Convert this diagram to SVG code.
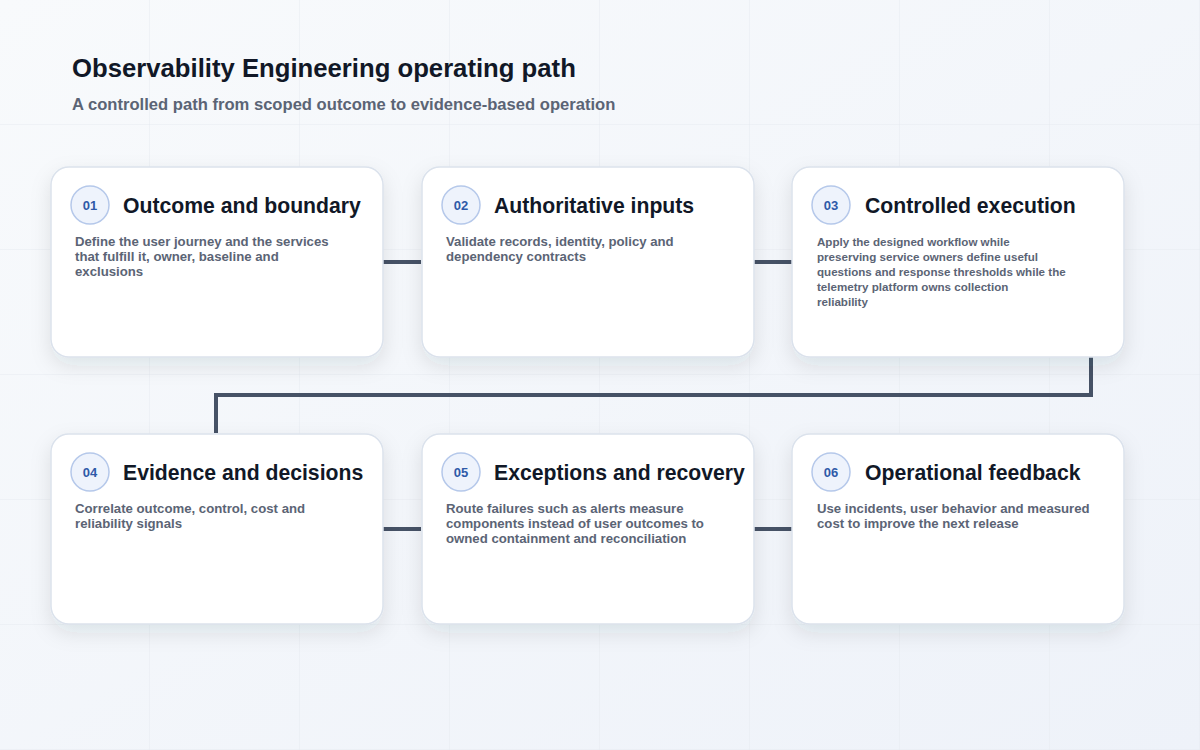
<svg xmlns="http://www.w3.org/2000/svg" width="1200" height="750" viewBox="0 0 1200 750">
<defs>
<linearGradient id="bg" x1="0" y1="0" x2="1" y2="1"><stop offset="0" stop-color="#f8fafc"/><stop offset="1" stop-color="#eef2f9"/></linearGradient>
<pattern id="grid" width="150" height="125" patternUnits="userSpaceOnUse" x="0" y="0"><path d="M150 0V125M0 125H150" fill="none" stroke="#e6eaf1" stroke-width="1"/></pattern>
<filter id="sh" x="-20%" y="-20%" width="140%" height="150%"><feDropShadow dx="0" dy="8" stdDeviation="10" flood-color="#1e293b" flood-opacity="0.1"/></filter>
</defs>
<style>
.card{fill:#fff;stroke:#dbe2ec;stroke-width:1.5;filter:url(#sh)}
.badge{fill:#eef3fc;stroke:#b5c8ea;stroke-width:1.5}
.num{font-family:"Liberation Sans",Arial,sans-serif;font-weight:bold;font-size:13px;fill:#2f5aa8;text-anchor:middle}
.ttl{font-family:"Liberation Sans",Arial,sans-serif;font-weight:bold;font-size:21.2px;fill:#111827}
.body{font-family:"Liberation Sans",Arial,sans-serif;font-weight:bold;font-size:13.2px;fill:#5b6475}
.conn{fill:none;stroke:#465266;stroke-width:4}
</style>
<rect width="1200" height="750" fill="url(#bg)"/>
<rect width="1200" height="750" fill="url(#grid)"/>
<text x="72" y="77" font-family="Liberation Sans,Arial,sans-serif" font-weight="bold" font-size="25.7" fill="#111827">Observability Engineering operating path</text>
<text x="72" y="110" font-family="Liberation Sans,Arial,sans-serif" font-weight="bold" font-size="16.6" fill="#5b6475">A controlled path from scoped outcome to evidence-based operation</text>
<g id="connectors">
<path class="conn" d="M383 262H421"/>
<path class="conn" d="M754 262H792"/>
<path class="conn" d="M1091 357V395H216V433"/>
<path class="conn" d="M383 529H421"/>
<path class="conn" d="M754 529H792"/>
</g>
<g id="n1"><rect class="card" x="51" y="167" width="332" height="190" rx="18"/><circle class="badge" cx="90" cy="205" r="19"/><text class="num" x="90" y="210">01</text><text class="ttl" x="123" y="213">Outcome and boundary</text><text class="body"><tspan x="75" y="246">Define the user journey and the services</tspan><tspan x="75" y="261">that fulfill it, owner, baseline and</tspan><tspan x="75" y="276">exclusions</tspan></text></g>
<g id="n2"><rect class="card" x="422" y="167" width="332" height="190" rx="18"/><circle class="badge" cx="461" cy="205" r="19"/><text class="num" x="461" y="210">02</text><text class="ttl" x="494" y="213">Authoritative inputs</text><text class="body"><tspan x="446" y="246">Validate records, identity, policy and</tspan><tspan x="446" y="261">dependency contracts</tspan></text></g>
<g id="n3"><rect class="card" x="792" y="167" width="332" height="190" rx="18"/><circle class="badge" cx="831" cy="205" r="19"/><text class="num" x="831" y="210">03</text><text class="ttl" x="865" y="213">Controlled execution</text><text class="body" style="font-size:11.6px"><tspan x="817" y="246">Apply the designed workflow while</tspan><tspan x="817" y="261">preserving service owners define useful</tspan><tspan x="817" y="276">questions and response thresholds while the</tspan><tspan x="817" y="291">telemetry platform owns collection</tspan><tspan x="817" y="306">reliability</tspan></text></g>
<g id="n4"><rect class="card" x="51" y="434" width="332" height="190" rx="18"/><circle class="badge" cx="90" cy="472" r="19"/><text class="num" x="90" y="477">04</text><text class="ttl" x="123" y="480">Evidence and decisions</text><text class="body"><tspan x="75" y="513">Correlate outcome, control, cost and</tspan><tspan x="75" y="528">reliability signals</tspan></text></g>
<g id="n5"><rect class="card" x="422" y="434" width="332" height="190" rx="18"/><circle class="badge" cx="461" cy="472" r="19"/><text class="num" x="461" y="477">05</text><text class="ttl" x="494" y="480">Exceptions and recovery</text><text class="body"><tspan x="446" y="513">Route failures such as alerts measure</tspan><tspan x="446" y="528">components instead of user outcomes to</tspan><tspan x="446" y="543">owned containment and reconciliation</tspan></text></g>
<g id="n6"><rect class="card" x="792" y="434" width="332" height="190" rx="18"/><circle class="badge" cx="831" cy="472" r="19"/><text class="num" x="831" y="477">06</text><text class="ttl" x="865" y="480">Operational feedback</text><text class="body"><tspan x="817" y="513">Use incidents, user behavior and measured</tspan><tspan x="817" y="528">cost to improve the next release</tspan></text></g>
</svg>
